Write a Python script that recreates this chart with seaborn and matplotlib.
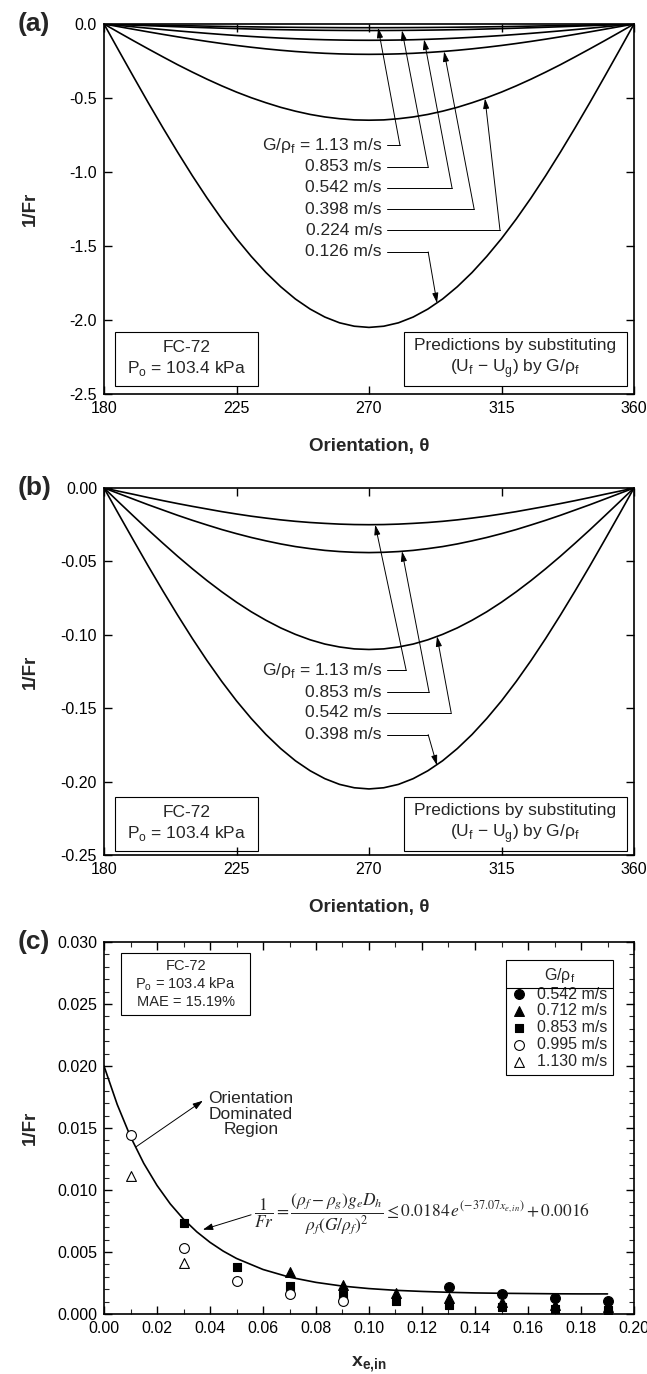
import numpy as np
import matplotlib
matplotlib.use("Agg")
import matplotlib.pyplot as plt
import matplotlib.patches as patches
from matplotlib.lines import Line2D
import seaborn as sns

# ---- data ----
theta = list(range(180, 361, 5))
fr_0126 = [0, -0.179, -0.356, -0.531, -0.701, -0.866, -1.025, -1.176, -1.318, -1.450,
           -1.570, -1.679, -1.775, -1.858, -1.926, -1.980, -2.019, -2.042, -2.050,
           -2.042, -2.019, -1.980, -1.926, -1.858, -1.775, -1.679, -1.570, -1.450,
           -1.318, -1.176, -1.025, -0.866, -0.701, -0.531, -0.356, -0.179, 0]
fr_0224 = [0, -0.057, -0.113, -0.168, -0.222, -0.275, -0.325, -0.373, -0.418, -0.460,
           -0.498, -0.532, -0.563, -0.589, -0.611, -0.628, -0.640, -0.648, -0.650,
           -0.648, -0.640, -0.628, -0.611, -0.589, -0.563, -0.532, -0.498, -0.460,
           -0.418, -0.373, -0.325, -0.275, -0.222, -0.168, -0.113, -0.057, 0]
fr_0398 = [0, -0.0179, -0.0356, -0.0531, -0.0701, -0.0866, -0.1025, -0.1176, -0.1318,
           -0.1450, -0.1570, -0.1679, -0.1775, -0.1858, -0.1926, -0.1980, -0.2019, -0.2042,
           -0.2050, -0.2042, -0.2019, -0.1980, -0.1926, -0.1858, -0.1775, -0.1679, -0.1570,
           -0.1450, -0.1318, -0.1176, -0.1025, -0.0866, -0.0701, -0.0531, -0.0356, -0.0179, 0]
fr_0542 = [0, -0.0096, -0.0191, -0.0285, -0.0376, -0.0465, -0.0550, -0.0631, -0.0707,
           -0.0778, -0.0843, -0.0901, -0.0953, -0.0997, -0.1034, -0.1063, -0.1083, -0.1096,
           -0.1100, -0.1096, -0.1083, -0.1063, -0.1034, -0.0997, -0.0953, -0.0901, -0.0843,
           -0.0778, -0.0707, -0.0631, -0.0550, -0.0465, -0.0376, -0.0285, -0.0191, -0.0096, 0]
fr_0853 = [0, -0.0038, -0.0076, -0.0114, -0.0150, -0.0186, -0.0220, -0.0252, -0.0283,
           -0.0311, -0.0337, -0.0360, -0.0381, -0.0399, -0.0413, -0.0425, -0.0433, -0.0438,
           -0.0440, -0.0438, -0.0433, -0.0425, -0.0413, -0.0399, -0.0381, -0.0360, -0.0337,
           -0.0311, -0.0283, -0.0252, -0.0220, -0.0186, -0.0150, -0.0114, -0.0076, -0.0038, 0]
fr_1130 = [0, -0.0022, -0.0043, -0.0065, -0.0086, -0.0106, -0.0125, -0.0143, -0.0161,
           -0.0177, -0.0192, -0.0205, -0.0217, -0.0227, -0.0235, -0.0241, -0.0246, -0.0249,
           -0.0250, -0.0249, -0.0246, -0.0241, -0.0235, -0.0227, -0.0217, -0.0205, -0.0192,
           -0.0177, -0.0161, -0.0143, -0.0125, -0.0106, -0.0086, -0.0065, -0.0043, -0.0022, 0]

# panel (c) correlation curve
x_fit = [0, 0.005, 0.01, 0.015, 0.02, 0.025, 0.03, 0.035, 0.04, 0.045, 0.05,
         0.06, 0.07, 0.08, 0.09, 0.10, 0.11, 0.12, 0.13, 0.14, 0.15, 0.16, 0.17, 0.18, 0.19]
fr_fit = [0.0200, 0.01689, 0.01430, 0.01215, 0.01037, 0.00888, 0.00765, 0.00663, 0.00578,
          0.00507, 0.00448, 0.00359, 0.00297, 0.00255, 0.00225, 0.00205, 0.00191, 0.00182,
          0.00175, 0.00170, 0.00167, 0.00165, 0.00163, 0.00162, 0.00162]

# panel (c) measured points
x_0542 = [0.13, 0.15, 0.17, 0.19]
y_0542 = [0.0022, 0.00165, 0.00133, 0.00107]
x_0712 = [0.07, 0.09, 0.11, 0.13, 0.15, 0.17, 0.19]
y_0712 = [0.0034, 0.00235, 0.0017, 0.00133, 0.0010, 0.00075, 0.00059]
x_0853 = [0.03, 0.05, 0.07, 0.09, 0.11, 0.13, 0.15, 0.17, 0.19]
y_0853 = [0.0073, 0.0038, 0.00227, 0.00155, 0.00105, 0.00075, 0.00059, 0.0004, 0.0003]
x_0995 = [0.01, 0.03, 0.05, 0.07, 0.09]
y_0995 = [0.0144, 0.0053, 0.00267, 0.0016, 0.00101]
x_1130 = [0.01, 0.03]
y_1130 = [0.0111, 0.0041]

sns.set_style("ticks")
plt.rcParams['font.family'] = ['Liberation Sans', 'DejaVu Sans']
plt.rcParams['axes.unicode_minus'] = False
plt.rcParams['axes.linewidth'] = 1.2

W, H = 647, 1374
fig = plt.figure(figsize=(W / 100, H / 100), dpi=100)
ax_a = fig.add_axes([104 / W, 1 - 394 / H, 530 / W, 370 / H])
ax_b = fig.add_axes([104 / W, 1 - 855 / H, 530 / W, 367 / H])
ax_c = fig.add_axes([104 / W, 1 - 1314 / H, 530 / W, 372 / H])

FS = 12.5
TICK_FS = 11.5


def style_axes(ax):
    for s in ax.spines.values():
        s.set_color('k')
        s.set_linewidth(1.2)
    ax.tick_params(which='major', direction='in', top=True, right=True,
                   length=6, width=1.0, labelsize=TICK_FS, colors='k', pad=5)
    ax.tick_params(which='minor', direction='in', top=True, right=True,
                   length=3.5, width=0.8)


def sub(base, s):
    return base + r'$_\mathregular{' + s + '}$'


g_rho = 'G/' + sub('ρ', 'f')


def leader(ax, text, ty, corner, tip):
    # label, horizontal leader, then an arrow to the curve
    ax.text(274.4, ty, text, ha='right', va='center', fontsize=FS)
    ax.plot([276.0, corner], [ty, ty], color='k', lw=0.7)
    ax.annotate('', xy=tip, xytext=(corner, ty),
                arrowprops=dict(arrowstyle='-|>,head_length=0.6,head_width=0.18',
                                lw=0.7, color='k', shrinkA=0, shrinkB=0))


def boxes(ax, y0, y1):
    for (x0, x1) in [(183.7, 232.3), (281.9, 357.6)]:
        ax.add_patch(patches.Rectangle((x0, y0), x1 - x0, y1 - y0, fill=False,
                                       ec='k', lw=0.8, zorder=3))
    yc = (y0 + y1) / 2
    ax.text(208.0, yc, 'FC-72\n' + sub('P', 'o') + ' = 103.4 kPa', ha='center',
            va='center', fontsize=FS, linespacing=1.25)
    ax.text(319.7, yc, 'Predictions by substituting\n(' + sub('U', 'f') + ' − '
            + sub('U', 'g') + ') by ' + g_rho, ha='center', va='center',
            fontsize=FS, linespacing=1.25)


# ---- panel (a) ----
for vals in [fr_0126, fr_0224, fr_0398, fr_0542, fr_0853, fr_1130]:
    sns.lineplot(x=theta, y=vals, ax=ax_a, color='k', lw=1.2, estimator=None)
ax_a.set_xlim(180, 360)
ax_a.set_ylim(-2.5, 0)
ax_a.set_xticks([180, 225, 270, 315, 360])
ax_a.set_yticks([0, -0.5, -1.0, -1.5, -2.0, -2.5])
ax_a.set_yticklabels(['0.0', '-0.5', '-1.0', '-1.5', '-2.0', '-2.5'])
style_axes(ax_a)
leader(ax_a, g_rho + ' = 1.13 m/s', -0.818, 280.5, (273.1, -0.025))
leader(ax_a, '0.853 m/s', -0.966, 290.1, (281.2, -0.043))
leader(ax_a, '0.542 m/s', -1.108, 298.2, (288.7, -0.104))
leader(ax_a, '0.398 m/s', -1.250, 305.7, (295.5, -0.185))
leader(ax_a, '0.224 m/s', -1.395, 314.5, (309.4, -0.503))
leader(ax_a, '0.126 m/s', -1.540, 290.1, (293.1, -1.886))
boxes(ax_a, -2.446, -2.081)

# ---- panel (b) ----
for vals in [fr_0398, fr_0542, fr_0853, fr_1130]:
    sns.lineplot(x=theta, y=vals, ax=ax_b, color='k', lw=1.2, estimator=None)
ax_b.set_xlim(180, 360)
ax_b.set_ylim(-0.25, 0)
ax_b.set_xticks([180, 225, 270, 315, 360])
ax_b.set_yticks([0, -0.05, -0.10, -0.15, -0.20, -0.25])
ax_b.set_yticklabels(['0.00', '-0.05', '-0.10', '-0.15', '-0.20', '-0.25'])
style_axes(ax_b)
leader(ax_b, g_rho + ' = 1.13 m/s', -0.124, 282.6, (272.1, -0.025))
leader(ax_b, '0.853 m/s', -0.139, 290.4, (281.2, -0.043))
leader(ax_b, '0.542 m/s', -0.153, 297.9, (293.1, -0.101))
leader(ax_b, '0.398 m/s', -0.168, 290.1, (293.1, -0.189))
boxes(ax_b, -0.247, -0.2105)

for ax, lab_y in [(ax_a, -(447 - 394) / 370), (ax_b, -(908 - 855) / 367)]:
    ax.set_xlabel('Orientation, θ', fontsize=13.5, fontweight='bold', va='center')
    ax.xaxis.set_label_coords(0.5, lab_y)
    ax.set_ylabel('1/Fr', fontsize=13.5, fontweight='bold', va='center')
    ax.yaxis.set_label_coords(-(104 - 30) / 530, 0.5)

# ---- panel (c) ----
sns.lineplot(x=x_fit, y=fr_fit, ax=ax_c, color='k', lw=1.2, estimator=None)
pts = [(x_0542, y_0542, 'o', 'black', '0.542 m/s'),
       (x_0712, y_0712, '^', 'black', '0.712 m/s'),
       (x_0853, y_0853, 's', 'black', '0.853 m/s'),
       (x_0995, y_0995, 'o', 'white', '0.995 m/s'),
       (x_1130, y_1130, '^', 'white', '1.130 m/s')]
for xs, ys, m, fc, lab in pts:
    sns.scatterplot(x=xs, y=ys, ax=ax_c, marker=m, color=fc, edgecolor='black',
                    linewidth=0.8, s=50 if m != 's' else 40, label=lab, zorder=4)
ax_c.set_xlim(0, 0.2)
ax_c.set_ylim(0, 0.03)
ax_c.set_xticks(np.arange(0, 0.201, 0.02))
ax_c.set_xticklabels(['%.2f' % v for v in np.arange(0, 0.201, 0.02)])
ax_c.set_xticks(np.arange(0.01, 0.2, 0.02), minor=True)
ax_c.set_yticks(np.arange(0, 0.0301, 0.005))
ax_c.set_yticklabels(['%.3f' % v for v in np.arange(0, 0.0301, 0.005)])
ax_c.set_yticks(np.arange(0, 0.0301, 0.001), minor=True)
style_axes(ax_c)
ax_c.set_xlabel('x' + r'$_\mathregular{e{,}in}$', fontsize=14, fontweight='bold', va='center')
ax_c.xaxis.set_label_coords(0.5, -(1365 - 1314) / 372)
ax_c.set_ylabel('1/Fr', fontsize=13.5, fontweight='bold', va='center')
ax_c.yaxis.set_label_coords(-(104 - 30) / 530, 0.5)

ax_c.add_patch(patches.Rectangle((0.0064, 0.0241), 0.0487, 0.0050, fill=False,
                                 ec='k', lw=0.8, zorder=3))
ax_c.text(0.0308, 0.02661, 'FC-72\n' + sub('P', 'o') + ' = 103.4 kPa\nMAE = 15.19%',
          ha='center', va='center', fontsize=10.5, linespacing=1.2)

ax_c.text(0.0555, 0.0161, 'Orientation\nDominated\nRegion', ha='center', va='center',
          fontsize=FS, linespacing=1.05)
ax_c.annotate('', xy=(0.0373, 0.0172), xytext=(0.0122, 0.0135),
              arrowprops=dict(arrowstyle='-|>,head_length=0.6,head_width=0.2',
                              lw=0.7, color='k', shrinkA=0, shrinkB=0))
eq = (r'$\dfrac{1}{Fr}=\dfrac{\left(\rho_f-\rho_g\right)g_eD_h}'
      r'{\rho_f\left(G/\rho_f\right)^2}\leq0.0184\,e^{\left(-37.07x_{e,in}\right)}+0.0016$')
ax_c.text(0.0565, 0.0080, eq, ha='left', va='center', fontsize=12.5,
          math_fontfamily='stix')
ax_c.annotate('', xy=(0.0373, 0.0068), xytext=(0.0555, 0.0080),
              arrowprops=dict(arrowstyle='-|>,head_length=0.6,head_width=0.2',
                              lw=0.7, color='k', shrinkA=0, shrinkB=0))

leg = ax_c.legend(title=g_rho, loc='upper right', bbox_to_anchor=(0.975, 0.973),
                  frameon=True, fancybox=False, edgecolor='k', framealpha=1,
                  fontsize=11.5, title_fontsize=11.5, handletextpad=0.6,
                  handlelength=1.0, labelspacing=0.12, borderpad=0.35)
leg.get_frame().set_linewidth(0.8)

# panel letters
for lab, yc in [('(a)', 24), ('(b)', 488), ('(c)', 942)]:
    fig.text(18 / W, 1 - yc / H, lab, fontsize=19, fontweight='bold', va='center')

# separator under the legend title
fig.canvas.draw()
bb = leg.get_frame().get_window_extent()
tb = leg.get_title().get_window_extent()
ysep = tb.y0 - 3
inv = fig.transFigure.inverted()
(x0, y0), (x1, _) = inv.transform([(bb.x0, ysep), (bb.x1, ysep)])
fig.add_artist(Line2D([x0, x1], [y0, y0], transform=fig.transFigure, color='k', lw=0.8))

fig.savefig('out.png', dpi=100)
